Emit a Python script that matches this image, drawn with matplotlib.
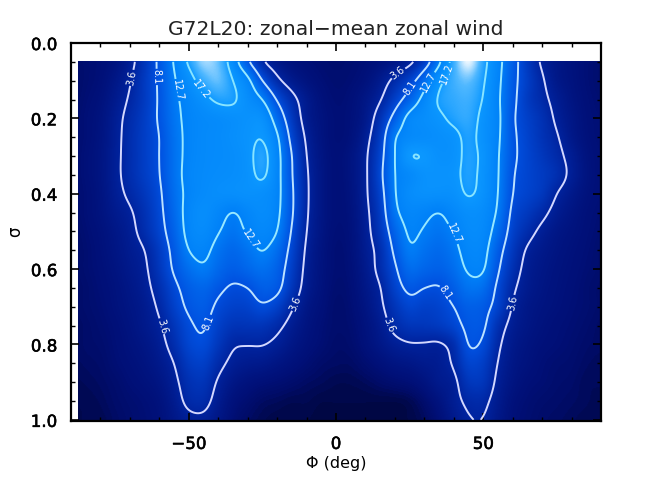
import numpy as np
import matplotlib
matplotlib.use("Agg")
import matplotlib.pyplot as plt
import matplotlib.patheffects as pe
from matplotlib.colors import LinearSegmentedColormap

TITLE = "G72L20: zonal\u2212mean zonal wind"
XLABEL = "\u03a6 (deg)"
YLABEL = "\u03c3"
levels = [3.6, 8.1, 12.7, 17.2]
level_colors = ["#d4d8ff", "#bde2ff", "#98e8ff", "#88e4ff"]
lat = list(range(-90, 95, 5))
sigma = [0.05, 0.10, 0.15, 0.20, 0.25, 0.30, 0.35, 0.40, 0.45, 0.50,
         0.55, 0.60, 0.65, 0.70, 0.75, 0.80, 0.85, 0.90, 0.95, 1.00]

s05 = [.5,.8,1,1.5,2.8,5.4,8.8,13,17.9,22,20.5,14.8,8.6,3.9,2,1.3,1,.8,.7, .8,1,1.3,1.8,2.8,5.8,11.8,19,24,18.5,14,9.6,5.8,3.2,2,1.4,1,.7]
s10 = [.5,.8,1.1,2,3.4,5.9,8.6,12.3,15.5,19,20.5,17.2,13.7,8.1,4.3,2.4,1.5,1,.8, .9,1.3,2.4,4.3,6.6,10.8,16.1,19.2,20.5,17.6,13.6,9.2,6.3,3.9,2.2,1.5,1,.7]
s15 = [.5,.9,1.3,2.4,3.9,5.9,8.5,11.9,14,16,17.9,17.7,15.3,12.7,7.8,4.5,2.4,1.3,.9, 1.1,1.9,3.4,6.4,9.9,14,17.6,18.7,19.2,17,13.3,9,6,4.3,2.8,1.7,1.1,.8]
s20 = [.6,1,1.5,2.8,4.4,6.2,8.5,11.6,13.6,14.5,15,15.5,16,15.8,10.8,5.8,2.6,1.5,1, 1.2,2.2,5,9.4,14,15.3,16.5,18,18.7,16.2,13.5,8.6,6.5,5,3.2,2,1.2,.9]
s25 = [.6,1,1.6,2.9,4.6,6.3,8.1,11.3,13.5,14.5,14.8,15.5,16.3,17,13.2,7,3.2,1.6,1, 1.3,2.8,6,12.4,14.5,15,15.5,16.2,18,16,13.3,8.8,6.8,5.2,3.8,2.2,1.3,.9]
s30 = [.6,1.1,1.7,3,4.6,6.3,8.1,11.2,13.6,14.5,14.8,15.2,16.2,18.3,14,8.1,3.6,1.8,1.1, 1.6,3.2,6.8,12.7,17.05,17.05,15.8,16,18,16.4,13,8.8,7,5.6,4.3,2.8,1.5,1]
s35 = [.6,1.1,1.7,3,4.6,6.2,8,11.2,13.8,14.6,15,15.3,16,17.8,14,8.3,3.9,1.9,1.1, 1.6,3.2,7.2,12.7,14.5,16,16.2,16.4,18,16.2,12.9,8.4,7,6,4.8,3,1.6,1]
s40 = [.6,1,1.6,2.8,4.1,5.6,7.6,10.9,13.6,14.8,15.3,15.5,15.8,15.5,13.8,8.6,4,1.9,1.1, 1.5,3.2,6.6,12.5,15,15.8,15.7,15.8,17.5,16,12.7,8.1,6.8,5.7,3.6,2.3,1.4,1]
s45 = [.6,1,1.5,2.4,3.3,5,7.3,10.5,14,15.3,14,12.6,14,15,13.5,8.5,3.9,1.9,1.1, 1.4,3,6,11.8,14,13.5,12.7,14.2,15.5,15,12.2,7.4,5.8,4.3,2.7,1.8,1.2,.9]
s50 = [.5,.9,1.3,2,2.9,4.6,6.9,9.9,13.8,14.8,12.9,11.6,13,14.2,12.7,7.8,3.6,1.8,1, 1.3,2.8,5.5,10,13.2,12.4,11.6,12.8,14.8,14.5,11,6.7,4.6,3,2,1.5,1.1,.8]
s55 = [.5,.8,1.2,1.8,2.6,3.6,6,9.1,12.7,13.6,11.5,10.4,11.5,12.8,11,7,3.2,1.6,.9, 1.2,2.6,4.6,8.8,12.3,11.3,10.6,11.8,14,13.8,9.5,5.8,3.3,2.3,1.7,1.3,1,.7]
s60 = [.5,.8,1.1,1.6,2.3,3.2,5.5,8.5,11,12.2,10.5,9.4,10.3,11.2,9.8,6.3,2.9,1.5,.9, 1.1,2.3,4.4,7.6,10.8,10.2,9.7,10.9,13.1,13,8.5,5,2.8,2,1.5,1.2,.9,.7]
s65 = [.5,.7,1,1.4,2,2.9,4.7,7.3,9.4,10.2,8.8,7.7,8.1,9.5,8.9,5.5,2.6,1.4,.8, 1,2,3.5,6.6,8.8,8.1,7.9,9.5,11.5,11,7.4,4.1,2.5,1.8,1.4,1.1,.8,.6]
s70 = [.5,.7,.9,1.3,1.8,2.5,4,6.5,8.6,9.3,7.5,6.6,6.7,7.7,6.6,3.9,2,1.2,.7, .9,1.7,3.1,5.3,7,6.5,6.8,8.1,9.6,9.2,6.8,3.4,2.1,1.6,1.3,1,.8,.6]
s75 = [.4,.6,.8,1.1,1.6,2.3,3.3,5.4,7.6,8.4,6.5,5.3,5.3,5.3,4.3,2.7,1.6,1,.7, .8,1.4,2.5,4.3,5.4,5.5,5.9,7,8.8,8.6,5,2.8,1.9,1.4,1.1,.9,.7,.5]
s80 = [.4,.6,.7,1,1.4,1.9,2.8,4.6,7,7.6,5.6,3.9,3.7,3.7,3,2,1.3,.9,.6, .7,1.2,2,2.9,3.4,3.4,3.3,4.6,8.2,7.6,4.1,2.3,1.6,1.2,1,.8,.6,.5]
s85 = [.4,.5,.6,.9,1.2,1.6,2.3,3.6,5.9,6.4,4.4,3,2.5,2.3,1.8,1.3,.9,.6,.5, .5,.8,1.2,1.7,2,2.4,2.7,3.9,6.8,6.3,3.5,2,1.4,1,.8,.7,.5,.4]
s90 = [.3,.4,.5,.7,1,1.3,1.8,3,4.9,5.3,3.3,2,1.4,1.1,.9,.7,.5,.4,.3, .3,.4,.6,.8,1,1.5,2.4,3,5.5,5.5,3,1.7,1.1,.9,.7,.6,.4,.4]
s95 = [.3,.3,.4,.6,.8,1,1.4,2.5,4.2,4.4,2.6,1.3,.8,.5,.4,.3,.3,.2,.2, .2,.2,.2,.2,.3,.7,1.5,2.8,4.1,4.2,2.5,1.3,.9,.7,.6,.5,.4,.3]
s100 = [.2,.3,.3,.5,.7,.9,1.2,2,2.9,3,1.9,.9,.5,.3,.2,.2,.2,.1,.1, .1,.1,.1,.1,.2,.4,1,2.2,3.4,3.5,2.1,1.1,.8,.6,.5,.4,.3,.3]

rows = [s05, s10, s15, s20, s25, s30, s35, s40, s45, s50,
        s55, s60, s65, s70, s75, s80, s85, s90, s95, s100]
U = np.array(rows, dtype=float)
lat_a = np.array(lat, dtype=float)
sig_a = np.array(sigma, dtype=float)


def refine(arr, coords, new, axis):
    """Catmull-Rom resampling of the read-off table for smooth rendering."""
    arr = np.moveaxis(arr, axis, 0)
    pad = np.concatenate([[2 * arr[0] - arr[1]], arr, [2 * arr[-1] - arr[-2]]])
    step = coords[1] - coords[0]
    pos = (new - coords[0]) / step
    i = np.clip(np.floor(pos).astype(int), 0, len(coords) - 2)
    t = (pos - i).reshape((-1,) + (1,) * (arr.ndim - 1))
    p0, p1, p2, p3 = pad[i], pad[i + 1], pad[i + 2], pad[i + 3]
    out = 0.5 * (2 * p1 + (p2 - p0) * t + (2 * p0 - 5 * p1 + 4 * p2 - p3) * t**2
                 + (3 * p1 - p0 - 3 * p2 + p3) * t**3)
    return np.moveaxis(out, 0, axis)


def soften(arr, half, axis):
    k = np.hanning(2 * half + 3)[1:-1]
    k = k / k.sum()
    arr = np.moveaxis(arr, axis, 0)
    pad = np.concatenate([np.repeat(arr[:1], half, 0), arr, np.repeat(arr[-1:], half, 0)])
    out = np.apply_along_axis(lambda v: np.convolve(v, k, mode="valid"), 0, pad)
    return np.moveaxis(out, 0, axis)


fine_lat = np.linspace(-87.5, 89.6, 533)
fine_sig = np.linspace(0.05, 1.0, 360)
F = refine(refine(U, sig_a, fine_sig, 0), lat_a, fine_lat, 1)
F = soften(soften(F, 6, 1), 7, 0)

vmax = 24
cmap = LinearSegmentedColormap.from_list(
    "jetblue",
    [(0 / vmax, "#00063c"), (0.5 / vmax, "#000c68"), (1 / vmax, "#001078"),
     (3.6 / vmax, "#0024a0"), (8.1 / vmax, "#0050e0"), (12.7 / vmax, "#0080f8"),
     (17.2 / vmax, "#0c98ff"), (20 / vmax, "#50b8ff"), (1, "#ffffff")])

fig = plt.figure(figsize=(6.67, 4.82), dpi=100)
ax = fig.add_axes([71 / 667, 1 - 421 / 482, 530 / 667, 378 / 482])
ax.imshow(F, extent=[fine_lat[0], fine_lat[-1], fine_sig[-1], fine_sig[0]],
          cmap=cmap, vmin=0, vmax=vmax, aspect="auto", interpolation="bilinear")
cs = ax.contour(fine_lat, fine_sig, F, levels=levels, colors=level_colors, linewidths=1.4)
label_spots = [(-69, .093), (-60.3, .09), (-54, .125), (-45.3, .12), (-28.3, .515),
               (-42.9, .743), (-58.4, .75), (-14, .69), (21.9, .088), (25.2, .12),
               (31.4, .103), (36, .077), (40.5, .504), (37.7, .66), (18.5, .748),
               (60.2, .69)]
ax.clabel(cs, fmt="%.1f", fontsize=7, colors="white", inline=True, inline_spacing=1,
          manual=label_spots)

ax.set_xlim(-90, 90)
ax.set_ylim(1.003, 0)
ax.set_xticks([-50, 0, 50])
ax.set_xticks(np.arange(-80, 90, 10), minor=True)
ax.set_yticks([0, .2, .4, .6, .8, 1.0])
ax.set_yticklabels(["0.0", "0.2", "0.4", "0.6", "0.8", "1.0"])
ax.set_yticks(np.arange(0, 1.01, .05), minor=True)
ax.tick_params(which="major", direction="in", length=6, width=1.2, top=True, right=True,
               labelsize=12, pad=10, color="black")
ax.tick_params(which="minor", direction="in", length=3.2, width=1.0, top=True, right=True,
               color="black")
stroke = [pe.withStroke(linewidth=0.4, foreground="black")]
for lab in ax.get_xticklabels() + ax.get_yticklabels():
    lab.set_path_effects(stroke)
for sp in ax.spines.values():
    sp.set_linewidth(1.6)
ax.set_title(TITLE, fontsize=14.6, pad=6, color="#222222")
ax.set_xlabel(XLABEL, fontsize=11.5, labelpad=2)
ax.set_ylabel(YLABEL, fontsize=12, labelpad=5)
fig.savefig("out.png", dpi=100)
